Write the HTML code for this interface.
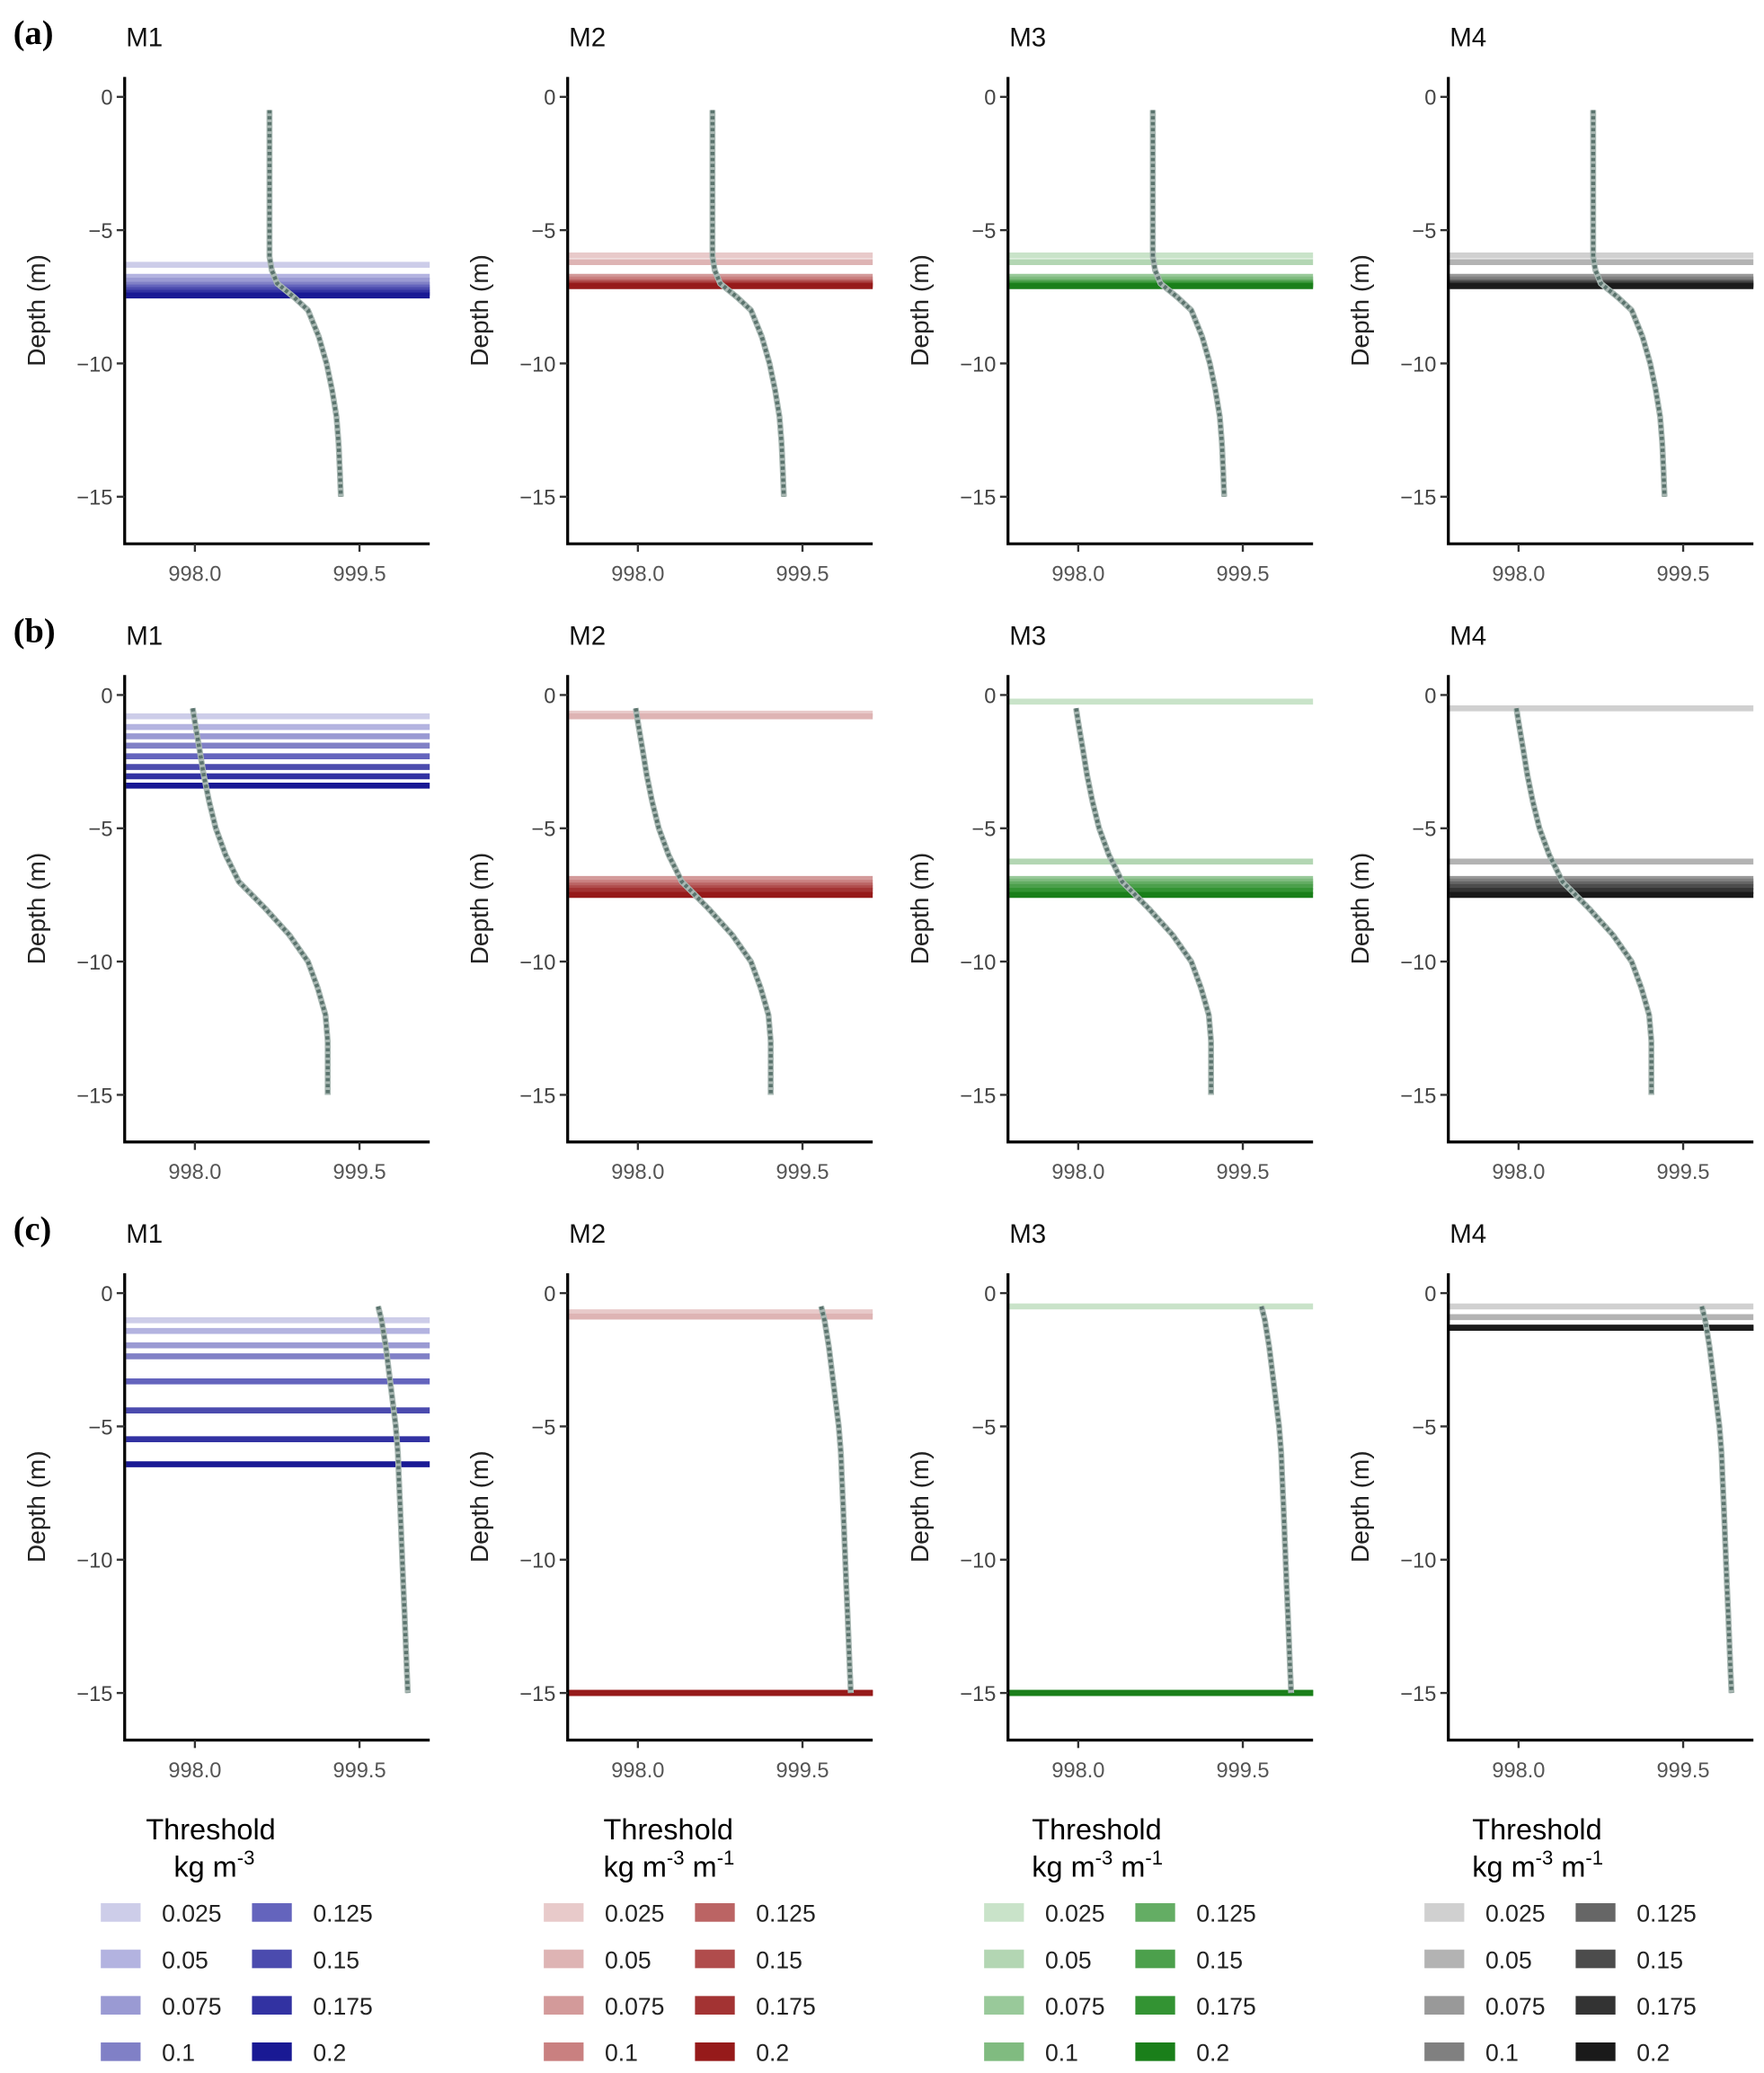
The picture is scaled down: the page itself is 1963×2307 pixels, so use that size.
<!DOCTYPE html>
<html><head><meta charset="utf-8"><style>
html,body{margin:0;padding:0;background:#fff}
svg{display:block}
text{font-family:"Liberation Sans",sans-serif}
</style></head><body>
<svg id="fig" width="1963" height="2307" viewBox="0 0 1330 1563" xmlns="http://www.w3.org/2000/svg"></svg>
<script>
// ---- data ----
const panelLetters = ['(a)','(b)','(c)'];
const modelNames = ['M1','M2','M3','M4'];
const xTicks = [998.0, 999.5];
const xTickLabels = ['998.0','999.5'];
const yTicks = [0,-5,-10,-15];
const yTickLabels = ['0','\u22125','\u221210','\u221215'];
const thresholdLabels = ['0.025','0.05','0.075','0.1','0.125','0.15','0.175','0.2'];
const profileDepthA = [0.5,1,2,3,4,5,6,6.5,7,7.5,8,9,10,11,12,13,14,15];
const profileDensA  = [998.68,998.68,998.68,998.68,998.68,998.68,998.68,998.7,998.75,998.9,999.03,999.13,999.2,999.25,999.29,999.31,999.32,999.33];
const profileDepthB = [0.5,1,2,3,4,5,6,6.5,7,7.5,8,9,10,11,12,13,14,15];
const profileDensB  = [997.98,998.0,998.04,998.08,998.13,998.19,998.28,998.34,998.4,998.52,998.64,998.86,999.03,999.12,999.19,999.21,999.21,999.21];
const profileDepthC = [0.5,1,2,3,4,5,6,7,8,9,10,11,12,13,14,15];
const profileDensC  = [999.67,999.7,999.74,999.77,999.8,999.83,999.85,999.86,999.87,999.88,999.89,999.9,999.91,999.92,999.93,999.94];
// threshold depths [row][model][threshold index]
const mldRowA = [
  [6.3,6.75,6.9,7.05,7.15,7.25,7.35,7.45],
  [5.95,6.2,6.75,6.85,6.95,7.0,7.05,7.1],
  [5.95,6.2,6.75,6.85,6.95,7.0,7.05,7.1],
  [5.95,6.2,6.75,6.85,6.95,7.0,7.05,7.1]];
const mldRowB = [
  [0.8,1.2,1.55,1.9,2.3,2.7,3.05,3.4],
  [0.7,0.8,6.9,7.05,7.15,7.25,7.35,7.5],
  [0.25,6.25,6.9,7.0,7.1,7.2,7.35,7.5],
  [0.5,6.25,6.9,7.0,7.1,7.2,7.35,7.5]];
const mldRowC = [
  [1.02,1.42,1.96,2.37,3.31,4.4,5.48,6.42],
  [0.72,0.88,15.0,15.0,15.0,15.0,15.0,15.0],
  [0.5,15.0,15.0,15.0,15.0,15.0,15.0,15.0],
  [0.5,0.9,1.3,1.3,1.3,1.3,1.3,1.3]];
const palettes = [
  ['#cdcde9','#b3b3e0','#9a9ad3','#8080c6','#6464bd','#4b4bae','#3232a2','#191994'],
  ['#e8caca','#deb4b4','#d39a9a','#c98080','#bb6464','#b04c4c','#a33333','#961a1a'],
  ['#c9e3c9','#b3d6b3','#99c99a','#80bb80','#64ad64','#4ca04c','#339333','#1a7f1a'],
  ['#d0d0d0','#b3b3b3','#999999','#808080','#666666','#4c4c4c','#333333','#1a1a1a']];

// ---- layout ----
const NS='http://www.w3.org/2000/svg';
const svg=document.getElementById('fig');
function mk(tag,attrs,parent){const e=document.createElementNS(NS,tag);for(const k in attrs)e.setAttribute(k,attrs[k]);(parent||svg).appendChild(e);return e;}
const colOff=[0,334,666,998];
const rowOff=[0,451,902];
const axL=94, axR=324, axTop=58, axBot=410;
const xMin=997.36, xMax=1000.14;
const y0=73, pxPerM=20.1;
function xs(v,c){return colOff[c]+axL+(v-xMin)/(xMax-xMin)*(axR-axL);}
function ys(d,r){return rowOff[r]+y0-d*pxPerM;}
const profiles=[[profileDepthA,profileDensA],[profileDepthB,profileDensB],[profileDepthC,profileDensC]];
const mlds=[mldRowA,mldRowB,mldRowC];

for(let r=0;r<3;r++){
  const lt=mk('text',{x:10,y:rowOff[r]+33,'font-size':26,'font-weight':'bold',style:'font-family:"Liberation Serif",serif'});
  
  
  lt.textContent=panelLetters[r];
  for(let c=0;c<4;c++){
    const g=mk('g',{});
    
    
    const t=mk('text',{x:colOff[c]+95,y:rowOff[r]+35,'font-size':20,fill:'#111'},g);
    
    
    t.textContent=modelNames[c];
    const ds=mlds[r][c];
    for(let i=0;i<ds.length;i++){
      const ln=mk('line',{x1:colOff[c]+axL+1,x2:colOff[c]+axR,y1:ys(-ds[i],r),y2:ys(-ds[i],r),stroke:palettes[c][i],'stroke-width':4.5},g);
      
      
    }
    const [pd,pv]=profiles[r];
    const pts=pd.map((d,i)=>xs(pv[i],c).toFixed(1)+','+ys(-d,r).toFixed(1)).join(' ');
    const pl=mk('polyline',{points:pts,fill:'none',stroke:'#a9b8b3','stroke-width':4.5,'stroke-linejoin':'round'},g);
    
    
    const pl2=mk('polyline',{points:pts,fill:'none',stroke:'#5b746e','stroke-width':3,'stroke-dasharray':'2.5 2'},g);
    
    
    const ax=mk('path',{d:`M${colOff[c]+axL},${rowOff[r]+axTop} V${rowOff[r]+axBot} H${colOff[c]+axR}`,fill:'none',stroke:'#000','stroke-width':2.2},g);
    
    
    yTicks.forEach((v,i)=>{
      const yy=ys(v,r);
      mk('line',{x1:colOff[c]+axL-6,x2:colOff[c]+axL,y1:yy,y2:yy,stroke:'#333','stroke-width':1.6},g);
      const tl=mk('text',{x:colOff[c]+axL-9,y:yy+6,'text-anchor':'end','font-size':16,fill:'#444'},g);
      
      
      tl.textContent=yTickLabels[i];
    });
    xTicks.forEach((v,i)=>{
      const xx=xs(v,c);
      mk('line',{x1:xx,x2:xx,y1:rowOff[r]+axBot,y2:rowOff[r]+axBot+6,stroke:'#333','stroke-width':1.6},g);
      const tl=mk('text',{x:xx,y:rowOff[r]+axBot+28,'text-anchor':'middle','font-size':16,fill:'#555'},g);
      
      
      tl.textContent=xTickLabels[i];
    });
    const yl=mk('text',{x:0,y:0,'text-anchor':'middle','font-size':19,fill:'#222',transform:`translate(${colOff[c]+34},${rowOff[r]+234}) rotate(-90)`},g);
    
    
    yl.textContent='Depth (m)';
  }
}
const legTitleX=[110,455,778,1110];
for(let c=0;c<4;c++){
  const g=mk('g',{});
  
  
  const t=mk('text',{x:legTitleX[c],y:1387,'font-size':22,fill:'#000'},g);
  t.textContent='Threshold';
  const u=mk('text',{x:legTitleX[c]+(c==0?21:0),y:1415,'font-size':22,fill:'#000'},g);
  u.innerHTML= c==0 ? 'kg m<tspan dy="-9" font-size="15">-3</tspan>' : 'kg m<tspan dy="-9" font-size="15">-3</tspan><tspan dy="9"> m</tspan><tspan dy="-9" font-size="15">-1</tspan>';
  for(let i=0;i<8;i++){
    const col=Math.floor(i/4), row=i%4;
    const sx=colOff[c]+76+col*114, sy=1442+row*35;
    const e=mk('g',{},g);
    
    
    mk('rect',{x:sx,y:sy-7,width:30,height:14,fill:palettes[c][i]},e);
    const lt=mk('text',{x:sx+46,y:sy+7,'font-size':18,fill:'#222'},e);
    lt.textContent=thresholdLabels[i];
  }
}
</script>
</body></html>
